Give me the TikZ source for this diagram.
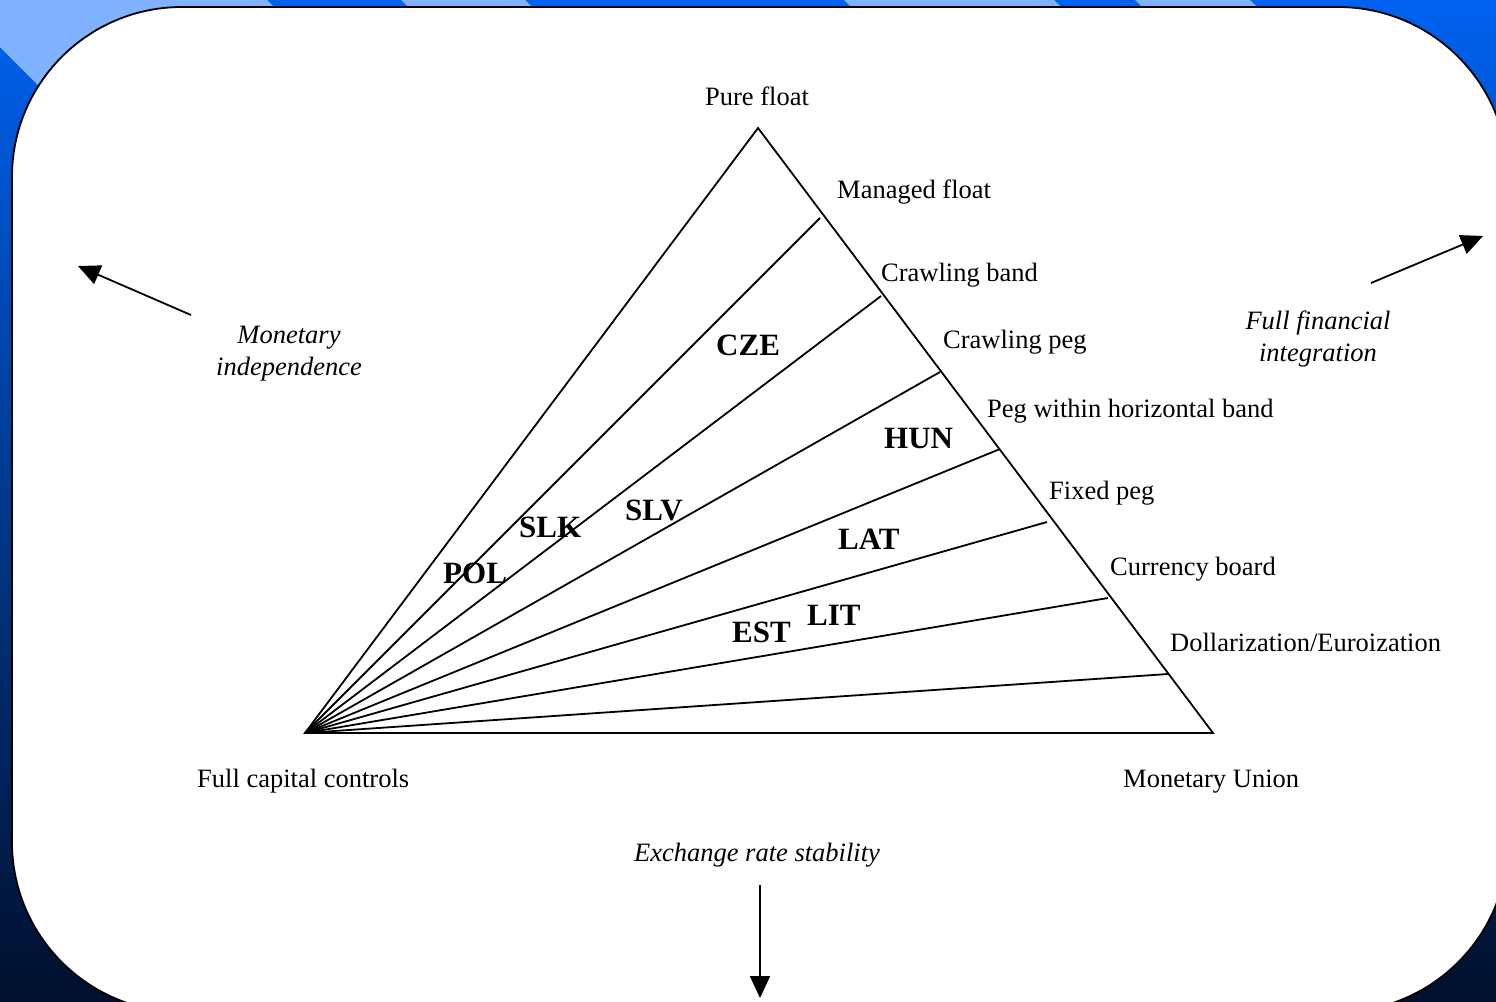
\documentclass[tikz,border=0pt]{standalone}
\usepackage{fontspec}
\setmainfont{Liberation Serif}
\usetikzlibrary{arrows.meta}
\definecolor{slidetop}{HTML}{0062F0}
\definecolor{slidebottom}{HTML}{00102C}
\definecolor{stripe}{HTML}{80B2FF}
\tikzset{
    panel/.style={draw=black, fill=white, line width=1.8pt, rounded corners=170pt},
    frame/.style={line width=1.8pt},
    band/.style={line width=1.8pt},
    regime/.style={anchor=base west, inner sep=0pt, font=\fontsize{26.5}{32}\selectfont},
    country/.style={anchor=base west, inner sep=0pt, font=\fontsize{31}{36}\selectfont\bfseries},
    goal/.style={align=center, inner sep=0pt, font=\fontsize{26.5}{32}\selectfont\itshape},
    goalarrow/.style={-{Triangle[length=22pt, width=20pt]}, line width=1.8pt},
}

\begin{document}
\begin{tikzpicture}[x=1pt, y=-1pt]

    % Slide background
    \useasboundingbox (0,0) rectangle (1496,1001);
    \clip (0,0) rectangle (1496,1001);
    \shade[top color=slidetop, bottom color=slidebottom] (0,0) rectangle (1496,1001);
    \foreach \a/\b in {-47/267, 401/525, 844/1054, 1135/1250}
        \fill[stripe] (\a,0) -- (\b,0) -- (\b+300,300) -- (\a+300,300) -- cycle;
    \draw[panel] (12,7) rectangle (1508,1012);

    % Triangle corners
    \coordinate (apex) at (758,128);
    \coordinate (cc)   at (305,733);
    \coordinate (mu)   at (1213,733);

    % Ends of the regime lines on the right side
    \coordinate (e1) at (820,218);
    \coordinate (e2) at (881,296);
    \coordinate (e3) at (940,372);
    \coordinate (e4) at (1000,449);
    \coordinate (e5) at (1047,522);
    \coordinate (e6) at (1108,598);
    \coordinate (e7) at (1168,674);

    \draw[frame] (apex) -- (mu) -- (cc) -- cycle;
    \foreach \e in {e1,e2,e3,e4,e5,e6,e7}
        \draw[band] (cc) -- (\e);

    % Regimes
    \node[regime, anchor=base] at (757,105) (pf) {Pure float};
    \node[regime] at (837,198)  (mf) {Managed float};
    \node[regime] at (881,281)  (cb) {Crawling band};
    \node[regime] at (943,348)  (cp) {Crawling peg};
    \node[regime] at (987,417)  (hb) {Peg within horizontal band};
    \node[regime] at (1049,499) (fp) {Fixed peg};
    \node[regime] at (1110,575) (cub) {Currency board};
    \node[regime] at (1170,651) (de) {Dollarization/Euroization};
    \node[regime] at (197,787)  (fcc) {Full capital controls};
    \node[regime] at (1123,787) (mon) {Monetary Union};

    % Countries
    \node[country] at (716,355) (cze) {CZE};
    \node[country] at (884,448) (hun) {HUN};
    \node[country] at (625,520) (slv) {SLV};
    \node[country] at (519,537) (slk) {SLK};
    \node[country] at (443,583) (pol) {POL};
    \node[country] at (838,549) (lat) {LAT};
    \node[country] at (807,625) (lit) {LIT};
    \node[country] at (732,642) (est) {EST};

    % Policy goals
    \node[goal] at (289,354)  (mi) {Monetary\\independence};
    \node[goal] at (1318,339) (ffi) {Full financial\\integration};
    \node[goal, anchor=base] at (757,861) (ers) {Exchange rate stability};

    \coordinate (mi0)  at (191,315);
    \coordinate (mi1)  at (78,266);
    \coordinate (ffi0) at (1371,283);
    \coordinate (ffi1) at (1483,236);
    \coordinate (ers0) at (760,885);
    \coordinate (ers1) at (760,998);
    \draw[goalarrow] (mi0) -- (mi1);
    \draw[goalarrow] (ffi0) -- (ffi1);
    \draw[goalarrow] (ers0) -- (ers1);

\end{tikzpicture}
\end{document}
